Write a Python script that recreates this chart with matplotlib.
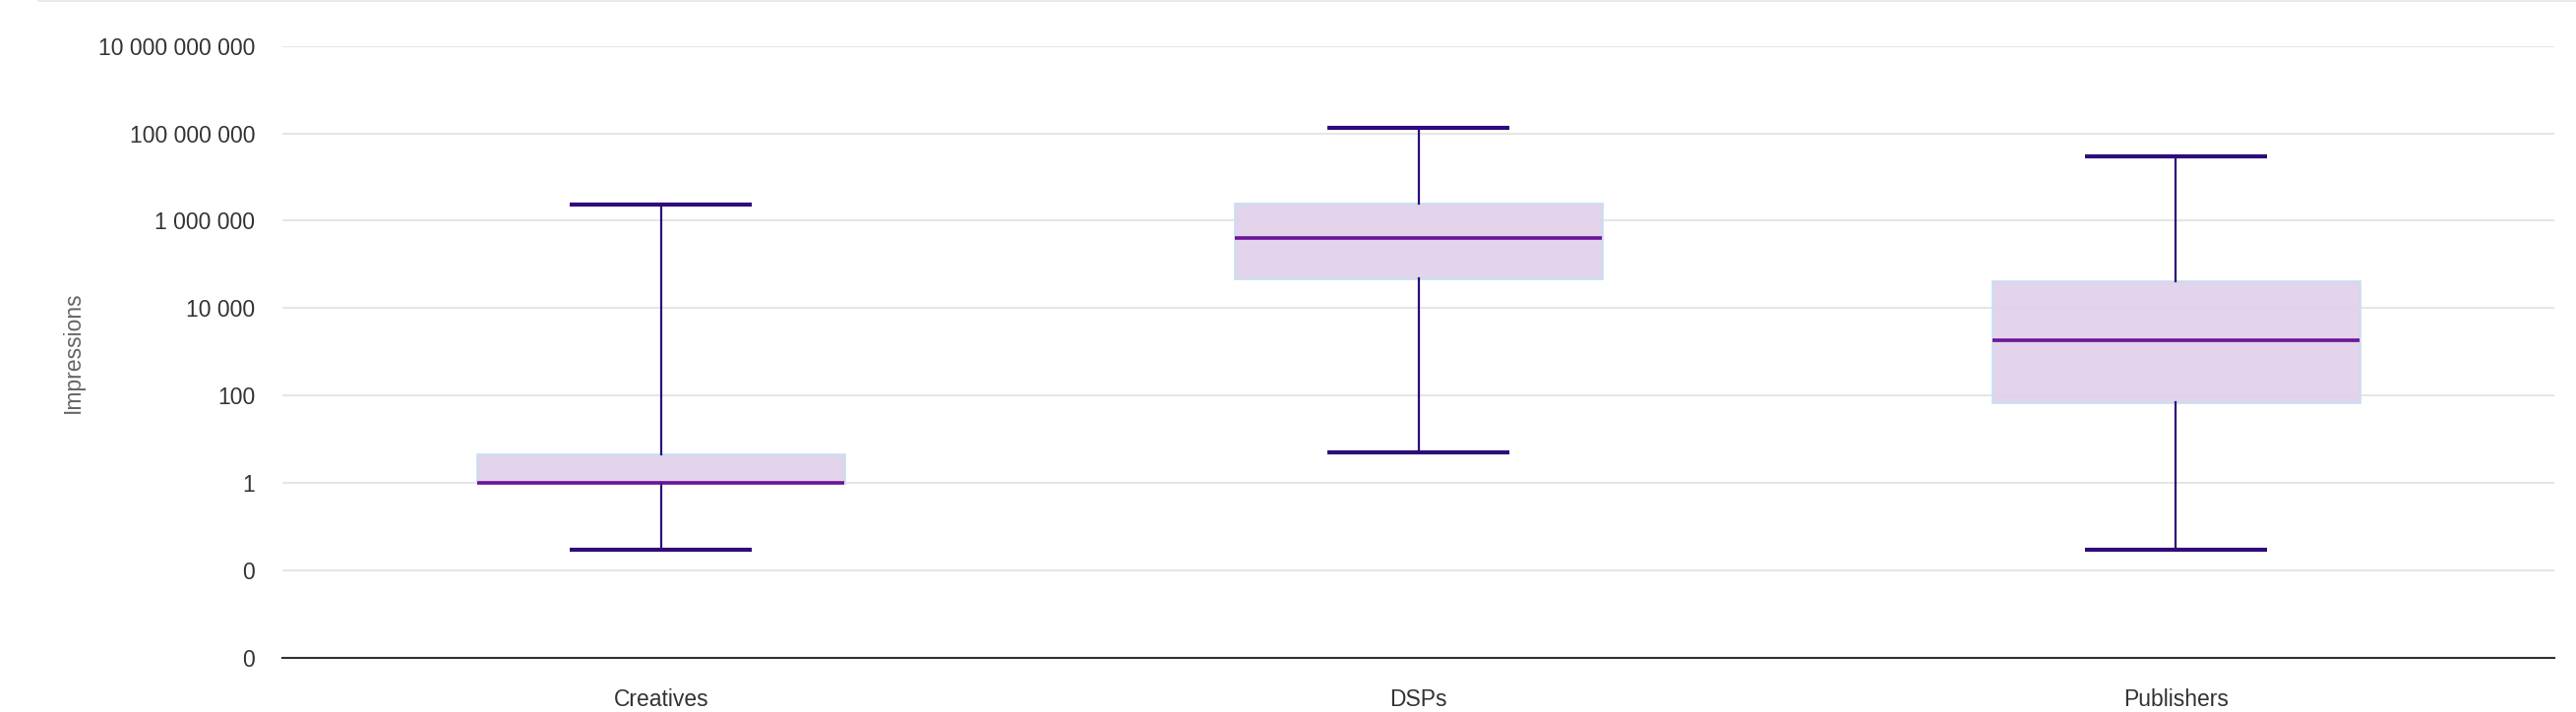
import matplotlib
matplotlib.use("Agg")
import matplotlib.pyplot as plt
from matplotlib.ticker import FixedLocator, FuncFormatter, NullLocator
from matplotlib.lines import Line2D

plt.rcParams['font.family'] = ['Liberation Sans', 'DejaVu Sans']

# valeurs (échelle log)
categories = ['Creatives', 'DSPs', 'Publishers']
whisker_low = [0.03, 5, 0.03]
q1 = [1, 4.9e4, 71]
medians = [1, 4.1e5, 1.8e3]
q3 = [4.5, 2.5e6, 4.1e4]
whisker_high = [2.3e6, 1.3e8, 2.9e7]
y_ticks = [1e-4, 1e-2, 1, 1e2, 1e4, 1e6, 1e8, 1e10]


def fmt_tick(v, pos):
    if v < 1:
        return '0'
    return f"{int(round(v)):,}".replace(',', ' ')


fig = plt.figure(figsize=(26.18, 7.24), dpi=100)
ax = fig.add_axes([287 / 2618, 1 - 669 / 724, (2596 - 287) / 2618, (669 - 46.6) / 724])

stats = []
for i, cat in enumerate(categories):
    stats.append(dict(label=cat, whislo=whisker_low[i], q1=q1[i], med=medians[i],
                      q3=q3[i], whishi=whisker_high[i], fliers=[]))

ax.bxp(stats, positions=range(len(categories)), widths=0.485, capwidths=0.24,
       patch_artist=True, showfliers=False, zorder=3,
       boxprops=dict(facecolor='#e2d1ea', edgecolor='#cddcf0', linewidth=2.0, alpha=0.95),
       medianprops=dict(color='#6a1596', linewidth=2.6, solid_capstyle='butt'),
       whiskerprops=dict(color='#2e0c7a', linewidth=1.6),
       capprops=dict(color='#2e0c7a', linewidth=3.0, solid_capstyle='butt'))

ax.set_yscale('log')
ax.set_ylim(1e-4, 1e10)
ax.set_xlim(-0.5, len(categories) - 0.5)
ax.yaxis.set_major_locator(FixedLocator(y_ticks))
ax.yaxis.set_minor_locator(NullLocator())
ax.yaxis.set_major_formatter(FuncFormatter(fmt_tick))

ax.grid(axis='y', color='#e6e6e6', linewidth=1.5, zorder=0)
ax.set_axisbelow(True)
for s in ['top', 'right', 'left']:
    ax.spines[s].set_visible(False)
ax.spines['bottom'].set_color('#333333')
ax.spines['bottom'].set_linewidth(1.5)
ax.spines['bottom'].set_zorder(4)

ax.tick_params(axis='y', length=0, pad=20, labelsize=16.5, labelcolor='#333333')
ax.tick_params(axis='x', length=0, pad=22, labelsize=16.5, labelcolor='#333333')

ax.set_ylabel('Impressions', fontsize=16.5, color='#666666')
ax.yaxis.set_label_coords(-0.087, 0.5)

# trait fin en haut de la figure
fig.add_artist(Line2D([39 / 2618, 1], [0.999, 0.999], color='#e6e6e6', linewidth=1.2))

fig.savefig('out.png', dpi=100, facecolor='white')
